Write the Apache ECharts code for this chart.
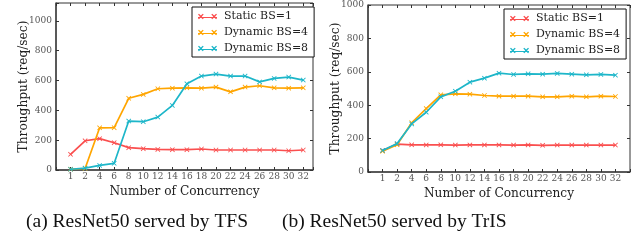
<!DOCTYPE html>
<html>
<head>
<meta charset="utf-8">
<script src="https://cdn.jsdelivr.net/npm/echarts@6/dist/echarts.min.js"></script>
<style>
  html, body { margin: 0; padding: 0; background: #fff; }
  #main { width: 633px; height: 248px; }
</style>
</head>
<body>
<div id="main"></div>
<script>
  const concurrency = ["1", "2", "4", "6", "8", "10", "12", "14", "16", "18", "20", "22", "24", "26", "28", "30", "32"];
  const seriesNames = ["Static BS=1", "Dynamic BS=4", "Dynamic BS=8"];
  const colors = ["#fa4f4f", "#ffa500", "#1db6c9"];

  // (a) TFS
  const tfsStatic1 = [105, 196, 210, 183, 150, 143, 138, 136, 136, 141, 134, 134, 134, 134, 134, 129, 134];
  const tfsDynamic4 = [5, 10, 283, 284, 481, 507, 545, 549, 551, 549, 556, 524, 556, 565, 551, 549, 551];
  const tfsDynamic8 = [5, 13, 31, 45, 328, 324, 355, 433, 578, 630, 643, 630, 630, 591, 614, 623, 603];

  // (b) TrIS
  const trisStatic1 = [129, 167, 163, 162, 163, 161, 162, 162, 162, 161, 162, 160, 161, 161, 161, 161, 161];
  const trisDynamic4 = [125, 163, 295, 380, 462, 468, 466, 458, 454, 454, 454, 450, 450, 454, 450, 454, 452];
  const trisDynamic8 = [129, 170, 288, 358, 450, 484, 538, 562, 592, 584, 588, 586, 590, 586, 582, 584, 580];

  const captions = ["(a) ResNet50 served by TFS", "(b) ResNet50 served by TrIS"];

  const serif = "DejaVu Serif";
  const xMark = "path://M0,1.2L1.2,0L5,3.8L8.8,0L10,1.2L6.2,5L10,8.8L8.8,10L5,6.2L1.2,10L0,8.8L3.8,5Z";
  const legendIcon = "path://M0,4.5L20,4.5L20,5.5L0,5.5Z" +
    "M0,2L1,1L3,3L5,1L6,2L4,4L6,6L5,7L3,5L1,7L0,6L2,4Z" +
    "M14,2L15,1L17,3L19,1L20,2L18,4L20,6L19,7L17,5L15,7L14,6L16,4Z";

  const toPoints = arr => arr.map((v, i) => [i, v]);

  const grids = [
    {left: 56, top: 3, width: 257, height: 167, xMax: 16.67, yMax: 1120},
    {left: 368, top: 5, width: 264, height: 167, xMax: 17, yMax: 1000}
  ];

  const xAxes = [], yAxes = [];
  grids.forEach(function (g, gi) {
    const xlab = function (v) {
      return (Number.isInteger(v) && v >= 0 && v < concurrency.length) ? concurrency[v] : "";
    };
    xAxes.push({
      type: "value", gridIndex: gi, min: -1, max: g.xMax, interval: 1,
      name: "Number of Concurrency", nameLocation: "middle", nameGap: 15,
      nameTextStyle: {fontFamily: serif, fontSize: 12.2, color: "#222"},
      axisLine: {onZero: false, lineStyle: {color: "#444", width: 1.5}},
      axisTick: {inside: true, length: 3, lineStyle: {color: "#333"}},
      axisLabel: {formatter: xlab, fontFamily: serif, fontSize: 9, color: "#555", margin: 2},
      splitLine: {show: false}
    });
    xAxes.push({
      type: "value", gridIndex: gi, position: "top", min: -1, max: g.xMax, interval: 1,
      axisLine: {show: false, onZero: false},
      axisTick: {inside: true, length: 3, lineStyle: {color: "#333"}},
      axisLabel: {show: false}, splitLine: {show: false}
    });
    yAxes.push({
      type: "value", gridIndex: gi, min: 0, max: g.yMax, interval: 200,
      name: "Throughput (req/sec)", nameLocation: "middle", nameGap: 26,
      nameMoveOverlap: false,
      nameTextStyle: {fontFamily: serif, fontSize: 12.2, color: "#222"},
      axisLine: {show: true, onZero: false, lineStyle: {color: "#444", width: 1.5}},
      axisTick: {show: true, inside: true, length: 3, lineStyle: {color: "#333"}},
      axisLabel: {
        formatter: v => (v % 200 === 0 ? String(v) : ""),
        fontFamily: serif, fontSize: 9, color: "#555", margin: 4
      },
      splitLine: {show: false}
    });
    yAxes.push({
      type: "value", gridIndex: gi, position: "right", min: 0, max: g.yMax, interval: 200,
      axisLine: {show: false, onZero: false},
      axisTick: {show: true, inside: true, length: 3, lineStyle: {color: "#333"}},
      axisLabel: {show: false}, splitLine: {show: false}
    });
  });

  const allData = [
    [tfsStatic1, tfsDynamic4, tfsDynamic8],
    [trisStatic1, trisDynamic4, trisDynamic8]
  ];

  const series = [];
  allData.forEach(function (group, gi) {
    group.forEach(function (vals, si) {
      series.push({
        type: "line", name: seriesNames[si],
        xAxisIndex: gi * 2, yAxisIndex: gi * 2,
        data: toPoints(vals),
        symbol: xMark, symbolSize: 5, showAllSymbol: true,
        lineStyle: {width: 1.7, color: colors[si]},
        itemStyle: {color: colors[si]},
        animation: false, z: 2 + si
      });
    });
  });

  const legendBase = {
    orient: "vertical", backgroundColor: "#fff", borderColor: "#111", borderWidth: 1,
    borderRadius: 0, padding: [4, 6, 3, 6], itemWidth: 19, itemHeight: 7, itemGap: 5,
    icon: legendIcon, data: seriesNames,
    textStyle: {fontFamily: serif, fontSize: 11, color: "#222", padding: [0, 0, 0, 2]},
    selectedMode: false
  };

  const chartDom = document.getElementById("main");
  const myChart = echarts.init(chartDom, null, {renderer: "canvas"});
  const option = {
    backgroundColor: "#fff",
    animation: false,
    color: colors,
    grid: grids.map(g => ({
      left: g.left, top: g.top, width: g.width, height: g.height,
      show: true, borderColor: "#333", borderWidth: 1, backgroundColor: "transparent"
    })),
    xAxis: xAxes,
    yAxis: yAxes,
    legend: [
      Object.assign({}, legendBase, {left: 192, top: 7}),
      Object.assign({}, legendBase, {left: 504, top: 9})
    ],
    graphic: [
      {type: "text", left: 26, top: 212, style: {text: captions[0], font: "19.5px 'Liberation Serif'", fill: "#111"}},
      {type: "text", left: 282, top: 212, style: {text: captions[1], font: "19.5px 'Liberation Serif'", fill: "#111"}}
    ],
    series: series
  };
  myChart.setOption(option);
</script>
</body>
</html>
